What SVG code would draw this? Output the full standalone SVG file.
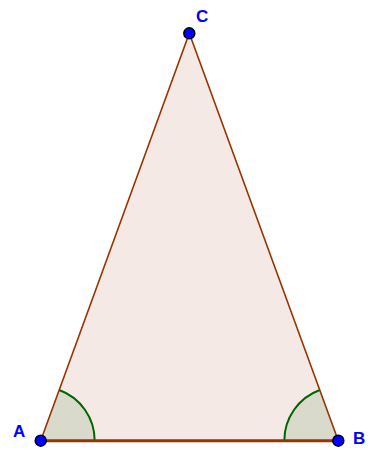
<svg xmlns="http://www.w3.org/2000/svg" width="377" height="452" viewBox="0 0 377 452">
<style>
.edge{stroke:#993300;fill:none;stroke-linecap:round}
.ang{fill:#d9d9cc;stroke:none}
.arc{fill:none;stroke:#006400;stroke-width:2}
.pt{fill:#0000ff;stroke:#000;stroke-width:1.5}
.lbl{font-family:"Liberation Sans",Arial,sans-serif;font-size:17px;font-weight:bold;fill:#0000ff}
</style>
<rect width="377" height="452" fill="#fff"/>
<g id="triangle">
<polygon points="40.7,440.7 338.3,440.7 189.3,33.3" fill="#f5e9e5"/>
</g>
<g id="angleA">
<path class="ang" d="M40.7,440.7 L94.7,440.7 A54,54 0 0 0 59.2,390 Z"/>
<path class="arc" d="M94.7,440.7 A54,54 0 0 0 59.2,390"/>
</g>
<g id="angleB">
<path class="ang" d="M338.3,440.7 L284.3,440.7 A54,54 0 0 1 319.8,390 Z"/>
<path class="arc" d="M284.3,440.7 A54,54 0 0 1 319.8,390"/>
</g>
<g id="edges">
<line class="edge" x1="40.7" y1="440.7" x2="338.3" y2="440.7" stroke-width="3"/>
<line class="edge" x1="40.7" y1="440.7" x2="189.3" y2="33.3" stroke-width="1.6"/>
<line class="edge" x1="338.3" y1="440.7" x2="189.3" y2="33.3" stroke-width="1.6"/>
</g>
<g id="A"><circle class="pt" cx="40.7" cy="440.7" r="5.5"/><text class="lbl" x="13" y="437">A</text></g>
<g id="B"><circle class="pt" cx="338.3" cy="440.7" r="5.5"/><text class="lbl" x="353" y="443.5">B</text></g>
<g id="C"><circle class="pt" cx="189.3" cy="33.3" r="5.5"/><text class="lbl" x="196" y="22">C</text></g>
</svg>
